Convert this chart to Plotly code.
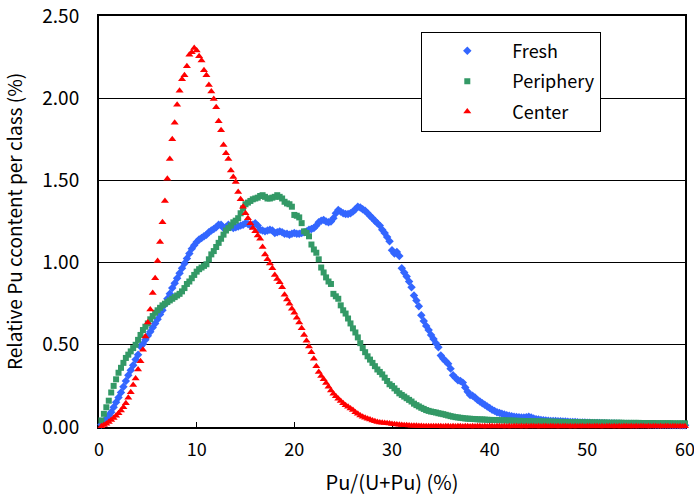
import plotly.graph_objects as go

# Relative Pu content per Pu/(U+Pu) class, class width 0.25 %
bin_width = 0.25

fresh = [
    0.015, 0.030, 0.050, 0.070, 0.090, 0.120, 0.150, 0.180, 0.210, 0.245, 0.280, 0.315, 0.345, 0.375, 0.410, 0.440, 0.490, 0.505, 0.530, 0.555,
    0.580, 0.605, 0.630, 0.655, 0.685, 0.710, 0.745, 0.780, 0.810, 0.845, 0.875, 0.905, 0.935, 0.965, 0.995, 1.025, 1.055, 1.085, 1.105, 1.125,
    1.140, 1.150, 1.160, 1.170, 1.185, 1.195, 1.205, 1.215, 1.230, 1.230, 1.210, 1.215, 1.230, 1.220, 1.210, 1.215, 1.220, 1.225, 1.230, 1.240,
    1.235, 1.225, 1.230, 1.240, 1.225, 1.200, 1.195, 1.190, 1.195, 1.200, 1.195, 1.180, 1.185, 1.190, 1.185, 1.175, 1.175, 1.170, 1.175, 1.180,
    1.175, 1.175, 1.180, 1.185, 1.190, 1.200, 1.205, 1.210, 1.225, 1.245, 1.255, 1.260, 1.250, 1.245, 1.250, 1.270, 1.300, 1.320, 1.310, 1.300,
    1.295, 1.295, 1.300, 1.310, 1.325, 1.340, 1.335, 1.325, 1.315, 1.300, 1.285, 1.270, 1.255, 1.240, 1.225, 1.200, 1.180, 1.155, 1.130, 1.075,
    1.055, 1.065, 1.040, 0.965, 0.940, 0.915, 0.885, 0.850, 0.800, 0.770, 0.735, 0.680, 0.645, 0.615, 0.590, 0.560, 0.535, 0.510, 0.485, 0.435,
    0.415, 0.400, 0.385, 0.355, 0.315, 0.300, 0.285, 0.280, 0.270, 0.240, 0.215, 0.195, 0.190, 0.180, 0.165, 0.155, 0.145, 0.135, 0.125, 0.115,
    0.105, 0.098, 0.090, 0.086, 0.080, 0.076, 0.072, 0.068, 0.065, 0.063, 0.061, 0.059, 0.058, 0.058, 0.060, 0.063, 0.058, 0.052, 0.048, 0.045,
    0.043, 0.041, 0.039, 0.038, 0.037, 0.036, 0.036, 0.035, 0.035, 0.034, 0.034, 0.032, 0.031, 0.030, 0.030, 0.029, 0.028, 0.028, 0.027, 0.026,
    0.026, 0.025, 0.025, 0.024, 0.024, 0.023, 0.023, 0.022, 0.022, 0.021, 0.021, 0.020, 0.020, 0.019, 0.019, 0.018, 0.018, 0.018, 0.017, 0.017,
    0.017, 0.016, 0.016, 0.016, 0.015, 0.015, 0.015, 0.014, 0.014, 0.014, 0.013, 0.013, 0.013, 0.012, 0.012, 0.012, 0.012, 0.011, 0.011, 0.011,
]

periphery = [
    0.040, 0.080, 0.120, 0.160, 0.210, 0.250, 0.290, 0.330, 0.360, 0.390, 0.420, 0.440, 0.460, 0.480, 0.500, 0.530, 0.560, 0.590, 0.610, 0.630,
    0.655, 0.675, 0.695, 0.710, 0.725, 0.740, 0.750, 0.760, 0.770, 0.780, 0.790, 0.800, 0.810, 0.825, 0.845, 0.870, 0.885, 0.905, 0.925, 0.945,
    0.960, 0.970, 0.980, 0.990, 1.020, 1.050, 1.070, 1.095, 1.120, 1.145, 1.170, 1.195, 1.210, 1.225, 1.245, 1.255, 1.270, 1.300, 1.330, 1.355,
    1.365, 1.375, 1.385, 1.390, 1.395, 1.405, 1.410, 1.400, 1.390, 1.390, 1.395, 1.400, 1.410, 1.400, 1.390, 1.370, 1.360, 1.355, 1.340, 1.290,
    1.285, 1.275, 1.240, 1.190, 1.180, 1.160, 1.110, 1.080, 1.060, 1.020, 0.970, 0.940, 0.910, 0.885, 0.870, 0.810, 0.795, 0.780, 0.740, 0.710,
    0.690, 0.660, 0.630, 0.600, 0.575, 0.545, 0.510, 0.480, 0.455, 0.430, 0.410, 0.390, 0.370, 0.350, 0.335, 0.320, 0.300, 0.280, 0.260, 0.250,
    0.235, 0.220, 0.205, 0.195, 0.185, 0.175, 0.165, 0.155, 0.142, 0.133, 0.125, 0.117, 0.110, 0.103, 0.098, 0.094, 0.091, 0.088, 0.084, 0.081,
    0.078, 0.074, 0.070, 0.066, 0.063, 0.060, 0.058, 0.056, 0.054, 0.052, 0.051, 0.050, 0.049, 0.048, 0.047, 0.046, 0.046, 0.045, 0.044, 0.043,
    0.043, 0.042, 0.042, 0.041, 0.041, 0.040, 0.040, 0.039, 0.039, 0.038, 0.038, 0.037, 0.037, 0.036, 0.036, 0.035, 0.035, 0.035, 0.034, 0.034,
    0.034, 0.033, 0.033, 0.033, 0.032, 0.032, 0.032, 0.031, 0.031, 0.031, 0.030, 0.030, 0.030, 0.030, 0.029, 0.029, 0.029, 0.029, 0.028, 0.028,
    0.028, 0.028, 0.028, 0.027, 0.027, 0.027, 0.027, 0.027, 0.026, 0.026, 0.026, 0.026, 0.026, 0.026, 0.025, 0.025, 0.025, 0.025, 0.025, 0.025,
    0.025, 0.024, 0.024, 0.024, 0.024, 0.024, 0.024, 0.023, 0.023, 0.023, 0.023, 0.023, 0.023, 0.023, 0.022, 0.022, 0.022, 0.022, 0.022, 0.022,
]

center = [
    0.005, 0.012, 0.020, 0.030, 0.042, 0.054, 0.068, 0.083, 0.100, 0.120, 0.145, 0.178, 0.212, 0.255, 0.295, 0.350, 0.400, 0.470, 0.550, 0.635,
    0.715, 0.815, 0.905, 1.010, 1.125, 1.245, 1.375, 1.510, 1.630, 1.750, 1.850, 1.960, 2.045, 2.115, 2.140, 2.195, 2.265, 2.280, 2.305, 2.290,
    2.255, 2.230, 2.170, 2.140, 2.080, 2.040, 1.995, 1.945, 1.860, 1.805, 1.715, 1.665, 1.630, 1.560, 1.520, 1.490, 1.430, 1.385, 1.340, 1.300,
    1.270, 1.240, 1.210, 1.190, 1.165, 1.145, 1.095, 1.050, 1.020, 0.995, 0.965, 0.925, 0.900, 0.880, 0.850, 0.805, 0.775, 0.750, 0.720, 0.695,
    0.665, 0.635, 0.600, 0.560, 0.525, 0.490, 0.455, 0.415, 0.370, 0.335, 0.310, 0.290, 0.268, 0.245, 0.222, 0.203, 0.187, 0.172, 0.158, 0.145,
    0.133, 0.123, 0.113, 0.103, 0.090, 0.080, 0.070, 0.063, 0.056, 0.050, 0.045, 0.040, 0.035, 0.031, 0.028, 0.026, 0.024, 0.023, 0.021, 0.019,
    0.017, 0.015, 0.013, 0.012, 0.011, 0.010, 0.009, 0.008, 0.007, 0.007, 0.006, 0.006, 0.005, 0.005, 0.005, 0.004, 0.004, 0.005, 0.004, 0.004,
    0.003, 0.004, 0.005, 0.003, 0.004, 0.003, 0.005, 0.004, 0.003, 0.004, 0.005, 0.003, 0.004, 0.003, 0.005, 0.004, 0.003, 0.004, 0.003, 0.005,
    0.004, 0.003, 0.005, 0.004, 0.003, 0.004, 0.003, 0.005, 0.003, 0.004, 0.004, 0.003, 0.005, 0.003, 0.004, 0.003, 0.005, 0.004, 0.003, 0.004,
    0.003, 0.005, 0.004, 0.003, 0.004, 0.005, 0.003, 0.004, 0.003, 0.005, 0.004, 0.003, 0.004, 0.003, 0.005, 0.003, 0.004, 0.004, 0.003, 0.005,
    0.004, 0.003, 0.004, 0.005, 0.003, 0.004, 0.003, 0.005, 0.004, 0.003, 0.005, 0.003, 0.004, 0.003, 0.004, 0.005, 0.003, 0.004, 0.003, 0.005,
    0.003, 0.004, 0.005, 0.003, 0.004, 0.003, 0.005, 0.004, 0.003, 0.004, 0.003, 0.005, 0.004, 0.003, 0.004, 0.005, 0.003, 0.004, 0.003, 0.005,
]

# class midpoints on the Pu/(U+Pu) axis
pu_fraction = [round(bin_width * (i + 1), 2) for i in range(len(center))]

FONT = "Noto Sans CJK JP"

series = [
    ("Fresh", fresh, "diamond", 6.5, "#3366FF"),
    ("Periphery", periphery, "square", 6, "#339966"),
    ("Center", center, "triangle-up", 7, "#FF0000"),
]

fig = go.Figure()
for name, values, symbol, size, color in series:
    fig.add_trace(go.Scatter(
        x=pu_fraction, y=values, name=name, mode="markers",
        legendgroup=name, cliponaxis=False,
        marker=dict(symbol=symbol, size=size, color=color, line=dict(width=0)),
    ))

fig.update_layout(
    width=694, height=500,
    margin=dict(l=99, r=9, t=16, b=73, autoexpand=False),
    paper_bgcolor="white", plot_bgcolor="white",
    font=dict(family=FONT, size=18, color="black"),
    showlegend=True,
    legend=dict(
        x=0.55, y=0.962, xanchor="left", yanchor="top",
        bgcolor="white", bordercolor="black", borderwidth=1,
        font=dict(family=FONT, size=18, color="black"),
        itemwidth=80, tracegroupgap=4,
    ),
    xaxis=dict(
        range=[0, 60], tick0=0, dtick=10, automargin=False,
        ticks="inside", ticklen=5, tickwidth=1, tickcolor="black",
        ticklabelstandoff=5, ticklabeloverflow="allow",
        showline=True, linecolor="black", linewidth=2, mirror=True,
        showgrid=False, zeroline=False, layer="below traces",
        title=dict(text="Pu/(U+Pu) (%)", standoff=16, font=dict(size=20)),
    ),
    yaxis=dict(
        range=[0, 2.5], tick0=0, dtick=0.5, tickformat=".2f", automargin=False,
        ticks="", ticklabelstandoff=14, tickfont=dict(size=19),
        showline=True, linecolor="black", linewidth=2, mirror=True,
        showgrid=True, gridcolor="black", gridwidth=1,
        zeroline=False, layer="below traces",
        title=dict(text="Relative Pu ccontent per class (%)", standoff=20,
                   font=dict(size=19)),
    ),
)

fig.write_html("out.html")
